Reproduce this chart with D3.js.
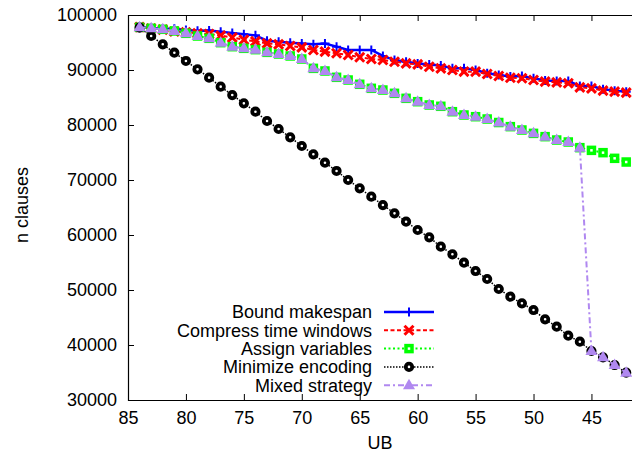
<!DOCTYPE html>
<html lang="en">
<head>
    <meta charset="UTF-8">
    <script src="https://d3js.org/d3.v7.min.js"></script>
    <title>n clauses vs UB</title>
    <style>
        body { margin: 0; background: #fff; }
        text { font-family: "Liberation Sans", Arial, sans-serif; font-size: 18px; fill: #000; }
    </style>
</head>
<body>
    <div id="chart"></div>
    <script>
        var width = 632;
        var height = 461;

        // UB values, one point per integer
        const ub = [84, 83, 82, 81, 80, 79, 78, 77, 76, 75, 74, 73, 72, 71, 70, 69, 68, 67, 66, 65, 64,
            63, 62, 61, 60, 59, 58, 57, 56, 55, 54, 53, 52, 51, 50, 49, 48, 47, 46, 45, 44, 43, 42];

        const boundMakespan = [97800, 97650, 97500, 97500, 97270, 97150, 97200, 96950, 96750, 96500, 96300,
            95330, 95150, 94970, 94800, 94700, 94800, 94250, 93650, 93650, 93650, 92550, 91800, 91500, 91200,
            91000, 90800, 90300, 90300, 90000, 89400, 89100, 88800, 88900, 88500, 88100, 88000, 88000, 87100,
            87100, 86500, 86250, 86050];
        const compressWindows = [97800, 97550, 97350, 97000, 96850, 96670, 96550, 96250, 95900, 95500, 95200,
            94850, 94670, 94360, 94120, 93640, 93330, 93040, 92730, 92310, 92000, 91820, 91510, 91210, 91030,
            90600, 90300, 90000, 89700, 89700, 89270, 88910, 88600, 88490, 88180, 87880, 87760, 87580, 86850,
            86670, 86240, 86060, 85880];
        const assignVariables = [97760, 97580, 97400, 97100, 96670, 96180, 95760, 94970, 94240, 93940, 93700,
            93210, 92910, 92550, 92000, 90300, 89820, 88670, 88180, 87400, 86670, 86360, 85760, 84850, 84240,
            83640, 83400, 82420, 81820, 81510, 81090, 80450, 79700, 79090, 78480, 77880, 77270, 76910, 75880,
            75390, 74970, 73940, 73270];
        const minimizeEncoding = [97700, 96180, 94670, 93150, 91640, 90120, 88610, 86970, 85450, 83940, 82420,
            80730, 79270, 77760, 76180, 74670, 73150, 71640, 70000, 68490, 66970, 65450, 63940, 62420, 60910,
            59580, 57880, 56490, 54960, 53450, 52000, 50180, 48780, 47580, 46360, 44670, 43330, 41690, 40600,
            38910, 37760, 36360, 34960];
        const mixedStrategy = [97760, 97580, 97400, 97100, 96670, 96180, 95760, 94970, 94240, 93940, 93700,
            93210, 92910, 92550, 92000, 90300, 89820, 88670, 88180, 87400, 86670, 86360, 85760, 84850, 84240,
            83640, 83400, 82420, 81820, 81510, 81090, 80450, 79700, 79090, 78480, 77880, 77270, 76910, 75880,
            38910, 37760, 36360, 34960];

        const xTicks = [85, 80, 75, 70, 65, 60, 55, 50, 45];
        const yTicks = [30000, 40000, 50000, 60000, 70000, 80000, 90000, 100000];

        const series = [
            { name: "Bound makespan", values: boundMakespan, color: "#0000ff", dash: null, lw: 2.5, marker: "plus" },
            { name: "Compress time windows", values: compressWindows, color: "#ff0000", dash: "4,2.5", lw: 2, marker: "cross" },
            { name: "Assign variables", values: assignVariables, color: "#00ff00", dash: "2,2.5", lw: 2, marker: "square" },
            { name: "Minimize encoding", values: minimizeEncoding, color: "#000000", dash: "1.5,1.5", lw: 1.5, marker: "circle" },
            { name: "Mixed strategy", values: mixedStrategy, color: "#b088f0", dash: "6,3,2,3", lw: 2, marker: "triangle" }
        ];

        const plotLeft = 128, plotRight = 632, plotTop = 15, plotBottom = 400;

        var svg = d3.select("#chart").append("svg")
            .attr("width", width).attr("height", height);

        const x = d3.scaleLinear().domain([85, 41.5]).range([plotLeft, plotRight]);
        const y = d3.scaleLinear().domain([30000, 100000]).range([plotBottom, plotTop]);

        // axes, ticks point inward
        svg.append("g").attr("transform", `translate(0,${plotBottom})`)
            .call(d3.axisBottom(x).tickValues(xTicks).tickSize(-6).tickPadding(11))
            .call(g => g.select(".domain").remove());
        svg.append("g").attr("transform", `translate(0,${plotTop})`)
            .call(d3.axisTop(x).tickValues(xTicks).tickSize(-6).tickFormat(""))
            .call(g => g.select(".domain").remove());
        svg.append("g").attr("transform", `translate(${plotLeft},0)`)
            .call(d3.axisLeft(y).tickValues(yTicks).tickSize(-6).tickPadding(11).tickFormat(d3.format("d")))
            .call(g => g.select(".domain").remove());
        svg.selectAll(".tick text").attr("font-family", null).attr("font-size", null);
        svg.selectAll(".tick line").attr("stroke", "#000");

        // frame
        svg.append("path")
            .attr("d", `M${plotRight + 1},${plotTop + 0.5}H${plotLeft + 0.5}V${plotBottom + 0.5}H${plotRight + 1}`)
            .attr("fill", "none").attr("stroke", "#000").attr("stroke-width", 1.2);

        function drawMarker(g, type, color) {
            if (type === "plus") {
                g.append("path").attr("d", "M-4.5,0H4.5M0,-4.5V4.5").attr("stroke", color).attr("stroke-width", 2);
            } else if (type === "cross") {
                g.append("path").attr("d", "M-4.5,-4.5L4.5,4.5M-4.5,4.5L4.5,-4.5").attr("stroke", color).attr("stroke-width", 3);
            } else if (type === "square") {
                g.append("rect").attr("x", -3).attr("y", -3).attr("width", 6).attr("height", 6)
                    .attr("fill", "#fff").attr("stroke", color).attr("stroke-width", 3.5);
            } else if (type === "circle") {
                g.append("circle").attr("r", 3.2).attr("fill", "#fff").attr("stroke", color).attr("stroke-width", 3.8);
            } else if (type === "triangle") {
                g.append("path").attr("d", "M0,-6.5L6,4L-6,4Z").attr("fill", color);
            }
        }

        const line = d3.line().x((d, i) => x(ub[i])).y(d => y(d));

        series.forEach(s => {
            svg.append("path")
                .attr("d", line(s.values))
                .attr("fill", "none")
                .attr("stroke", s.color)
                .attr("stroke-width", s.lw)
                .attr("stroke-dasharray", s.dash);
            svg.append("g").selectAll("g").data(s.values).enter().append("g")
                .attr("transform", (d, i) => `translate(${x(ub[i])},${y(d)})`)
                .each(function () { drawMarker(d3.select(this), s.marker, s.color); });
        });

        // legend
        const legend = svg.append("g");
        series.forEach((s, i) => {
            const ly = 312 + i * 18.3;
            legend.append("text").attr("x", 372).attr("y", ly).attr("dy", "0.35em")
                .attr("text-anchor", "end").text(s.name);
            legend.append("line").attr("x1", 384).attr("x2", 434).attr("y1", ly).attr("y2", ly)
                .attr("stroke", s.color).attr("stroke-width", s.lw).attr("stroke-dasharray", s.dash);
            drawMarker(legend.append("g").attr("transform", `translate(409,${ly})`), s.marker, s.color);
        });

        // axis labels
        svg.append("text").attr("x", (plotLeft + plotRight) / 2).attr("y", 443).attr("dy", "0.35em")
            .attr("text-anchor", "middle").text("UB");
        svg.append("text").attr("transform", "translate(22,205) rotate(-90)").attr("dy", "0.35em")
            .attr("text-anchor", "middle").text("n clauses");
    </script>
</body>
</html>
